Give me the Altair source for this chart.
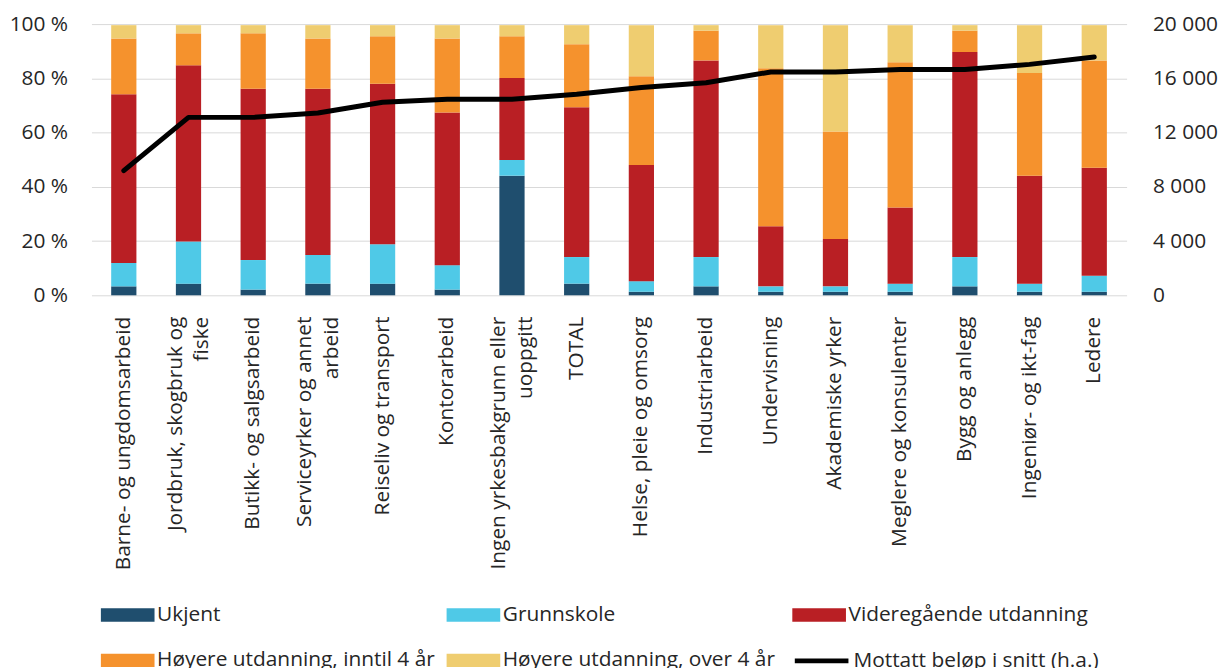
import altair as alt
import pandas as pd

categories = [
    "Barne- og ungdomsarbeid",
    "Jordbruk, skogbruk og\nfiske",
    "Butikk- og salgsarbeid",
    "Serviceyrker og annet\narbeid",
    "Reiseliv og transport",
    "Kontorarbeid",
    "Ingen yrkesbakgrunn eller\nuoppgitt",
    "TOTAL",
    "Helse, pleie og omsorg",
    "Industriarbeid",
    "Undervisning",
    "Akademiske yrker",
    "Meglere og konsulenter",
    "Bygg og anlegg",
    "Ingeniør- og ikt-fag",
    "Ledere",
]
series = [
    "Ukjent",
    "Grunnskole",
    "Videregående utdanning",
    "Høyere utdanning, inntil 4 år",
    "Høyere utdanning, over 4 år",
]
colors = ["#1f4e6e", "#4fc9e7", "#b91f24", "#f5922d", "#efcd70"]

ukjent = [3.3, 4.3, 2.1, 4.3, 4.3, 2.1, 44.1, 4.3, 1.3, 3.3, 1.3, 1.3, 1.3, 3.3, 1.3, 1.3]
grunnskole = [8.6, 15.5, 10.9, 10.6, 14.5, 9.0, 5.8, 9.8, 3.9, 10.8, 2.0, 2.0, 3.0, 10.8, 3.0, 5.9]
videregaende = [62.2, 65.0, 63.2, 61.3, 59.2, 56.3, 30.2, 55.2, 42.8, 72.5, 22.2, 17.5, 28.1, 75.6, 39.8, 39.8]
hoyere_inntil4 = [20.6, 11.8, 20.4, 18.5, 17.5, 27.3, 15.4, 23.3, 32.8, 11.0, 58.2, 39.6, 53.5, 7.9, 37.9, 39.6]
hoyere_over4 = [4.9, 3.0, 3.0, 4.9, 4.1, 4.9, 4.1, 7.0, 18.8, 2.0, 15.9, 39.2, 13.7, 2.0, 17.6, 13.0]

line_label = "Mottatt beløp i snitt (h.a.)"
belop = [9190, 13120, 13120, 13440, 14240, 14460, 14460, 14820, 15330, 15670,
         16470, 16470, 16650, 16650, 17030, 17570]

pct_ticks = [0, 20, 40, 60, 80, 100]
amount_ticks = [0, 4000, 8000, 12000, 16000, 20000]

rows = []
for s_idx, (name, vals) in enumerate(zip(series, [ukjent, grunnskole, videregaende, hoyere_inntil4, hoyere_over4])):
    for cat, v in zip(categories, vals):
        rows.append({"kategori": cat, "serie": name, "verdi": v, "rekkefolge": s_idx})
bars_df = pd.DataFrame(rows)
line_df = pd.DataFrame({"kategori": categories, "belop": belop, "linje": [line_label] * len(categories)})

FONT = "Open Sans"
TEXT = "#262626"
FS = 21

x_enc = alt.X(
    "kategori:N",
    sort=categories,
    scale=alt.Scale(paddingInner=0.61, paddingOuter=0.305),
    axis=alt.Axis(
        title=None,
        labelAngle=270,
        labelExpr="split(datum.label, '\\n')",
        labelLineHeight=27,
        labelPadding=21,
        labelLimit=400,
        labelOffset={"condition": {"test": "indexof(datum.value, '\\n') >= 0", "value": -13}, "value": 0},
        grid=False,
    ),
)

bars = alt.Chart(bars_df).mark_bar().encode(
    x=x_enc,
    y=alt.Y(
        "verdi:Q",
        stack="zero",
        scale=alt.Scale(domain=[0, 100], nice=False),
        axis=alt.Axis(
            title=None,
            values=pct_ticks,
            labelExpr="datum.value + ' %'",
            grid=True,
            labelPadding=24,
            minExtent=84,
            maxExtent=84,
        ),
    ),
    color=alt.Color(
        "serie:N",
        scale=alt.Scale(domain=series, range=colors),
        legend=alt.Legend(
            title=None,
            orient="none",
            legendX=10,
            legendY=581,
            direction="horizontal",
            columns=3,
            gridAlign="all",
            symbolType="M-2,-0.5H2V0.5H-2Z",
            symbolSize=729,
            symbolStrokeWidth=0,
            symbolOffset=13,
            labelOffset=16,
            labelFont=FONT,
            labelFontSize=FS,
            labelColor=TEXT,
            labelLimit=400,
            rowPadding=22,
            columnPadding=11,
            padding=0,
        ),
    ),
    order=alt.Order("rekkefolge:Q"),
)

line = alt.Chart(line_df).mark_line(strokeWidth=5, strokeCap="round", strokeJoin="round").encode(
    x=alt.X("kategori:N", sort=categories),
    y=alt.Y(
        "belop:Q",
        scale=alt.Scale(domain=[0, 20000], nice=False),
        axis=alt.Axis(
            title=None,
            orient="right",
            values=amount_ticks,
            labelExpr="replace(format(datum.value, ','), ',', ' ')",
            grid=False,
            labelPadding=26,
        ),
    ),
    stroke=alt.Stroke(
        "linje:N",
        scale=alt.Scale(domain=[line_label], range=["black"]),
        legend=alt.Legend(
            title=None,
            orient="none",
            legendX=706,
            legendY=625,
            symbolType="M-2,0H2",
            symbolSize=729,
            symbolStrokeWidth=5,
            symbolOffset=13,
            labelOffset=16,
            labelFont=FONT,
            labelFontSize=FS,
            labelColor=TEXT,
            labelLimit=400,
            padding=0,
        ),
    ),
)

chart = (
    alt.layer(bars, line)
    .resolve_scale(y="independent", color="independent")
    .properties(width=1042, height=273, padding={"left": 0, "top": 3, "right": 0, "bottom": 0})
    .configure_axis(
        labelFont=FONT,
        labelFontSize=FS,
        labelColor=TEXT,
        domain=False,
        ticks=False,
        tickSize=0,
        gridColor="#d9d9d9",
        gridWidth=1,
    )
    .configure_view(stroke=None)
)

chart.save("out.html", embed_options={"renderer": "svg", "actions": False})
